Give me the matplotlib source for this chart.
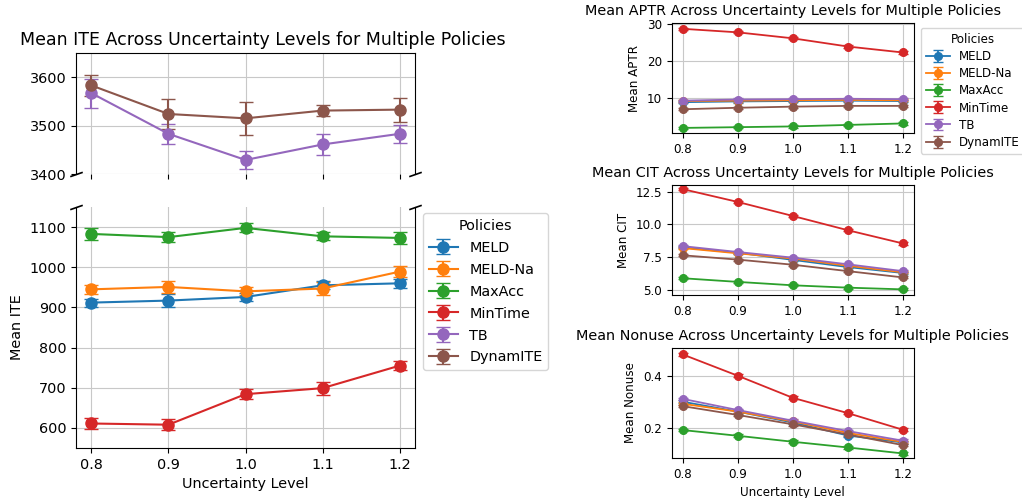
import matplotlib
matplotlib.use("Agg")
import matplotlib.pyplot as plt
import numpy as np

levels = [0.8, 0.9, 1.0, 1.1, 1.2]
policies = ["MELD", "MELD-Na", "MaxAcc", "MinTime", "TB", "DynamITE"]
colors = ["#1f77b4", "#ff7f0e", "#2ca02c", "#d62728", "#9467bd", "#8c564b"]

# Mean ITE (and error half-widths)
ite_mean = {
    "MELD":     [912, 917, 926, 955, 960],
    "MELD-Na":  [945, 951, 940, 947, 989],
    "MaxAcc":   [1083, 1075, 1098, 1077, 1073],
    "MinTime":  [611, 608, 684, 699, 755],
    "TB":       [3567, 3483, 3429, 3461, 3483],
    "DynamITE": [3583, 3524, 3515, 3531, 3533],
}
ite_err = {
    "MELD":     [10, 16, 11, 10, 11],
    "MELD-Na":  [11, 16, 10, 17, 14],
    "MaxAcc":   [14, 13, 11, 10, 16],
    "MinTime":  [13, 14, 12, 16, 11],
    "TB":       [30, 21, 19, 21, 19],
    "DynamITE": [22, 30, 34, 12, 25],
}

# Mean APTR
aptr_mean = {
    "MELD":     [9.0, 9.2, 9.3, 9.4, 9.3],
    "MELD-Na":  [9.3, 9.4, 9.5, 9.6, 9.5],
    "MaxAcc":   [2.1, 2.3, 2.5, 2.9, 3.3],
    "MinTime":  [28.65, 27.7, 26.1, 23.9, 22.3],
    "TB":       [9.4, 9.7, 9.8, 9.9, 9.8],
    "DynamITE": [7.1, 7.5, 7.8, 8.0, 8.0],
}
aptr_err = {p: [0.3] * 5 for p in policies}

# Mean CIT
cit_mean = {
    "MELD":     [8.25, 7.85, 7.3, 6.75, 6.3],
    "MELD-Na":  [8.2, 7.8, 7.4, 6.85, 6.35],
    "MaxAcc":   [5.9, 5.62, 5.36, 5.18, 5.05],
    "MinTime":  [12.7, 11.72, 10.65, 9.56, 8.55],
    "TB":       [8.35, 7.9, 7.47, 6.96, 6.44],
    "DynamITE": [7.65, 7.32, 6.93, 6.44, 5.96],
}
cit_err = {p: [0.08] * 5 for p in policies}

# Mean Nonuse
nonuse_mean = {
    "MELD":     [0.300, 0.262, 0.220, 0.170, 0.143],
    "MELD-Na":  [0.292, 0.262, 0.224, 0.180, 0.145],
    "MaxAcc":   [0.191, 0.169, 0.146, 0.124, 0.101],
    "MinTime":  [0.482, 0.400, 0.315, 0.256, 0.192],
    "TB":       [0.311, 0.268, 0.227, 0.187, 0.150],
    "DynamITE": [0.283, 0.249, 0.213, 0.174, 0.133],
}
nonuse_err = {p: [0.005] * 5 for p in policies}

W, H = 1022, 498
fig = plt.figure(figsize=(W / 100, H / 100), dpi=100)


def rect(x0, x1, y0, y1):
    return [x0 / W, 1 - y1 / H, (x1 - x0) / W, (y1 - y0) / H]


ls = 10.4  # left font size
ax_top = fig.add_axes(rect(76, 415, 53, 174))
ax_bot = fig.add_axes(rect(76, 415, 207, 448), sharex=ax_top)

for p, c in zip(policies, colors):
    for ax in (ax_top, ax_bot):
        ax.errorbar(levels, ite_mean[p], yerr=ite_err[p], color=c, marker="o",
                    markersize=8, capsize=5, linewidth=1.5, label=p)

ax_top.set_ylim(3400, 3650)
ax_bot.set_ylim(550, 1150)
ax_top.set_xlim(0.78, 1.22)
ax_top.set_yticks([3400, 3500, 3600])
ax_bot.set_yticks([600, 700, 800, 900, 1000, 1100])
ax_bot.set_xticks(levels)
ax_top.spines["bottom"].set_visible(False)
ax_bot.spines["top"].set_visible(False)
ax_top.tick_params(labelbottom=False)
for ax in (ax_top, ax_bot):
    ax.grid(True, color="#c8c8c8")
    ax.tick_params(labelsize=ls)
ax_top.set_title("Mean ITE Across Uncertainty Levels for Multiple Policies",
                 fontsize=12.5, x=0.55)
ax_bot.set_xlabel("Uncertainty Level", fontsize=ls)
ax_bot.set_ylabel("Mean ITE", fontsize=ls)

d = 0.35
kw = dict(marker=[(-1, -d), (1, d)], markersize=9, linestyle="none",
          color="k", mec="k", mew=1.2, clip_on=False)
ax_top.plot([0, 1], [0, 0], transform=ax_top.transAxes, **kw)
ax_bot.plot([0, 1], [1, 1], transform=ax_bot.transAxes, **kw)

h, l = ax_bot.get_legend_handles_labels()
fig.legend(h, l, title="Policies", loc="upper left",
           bbox_to_anchor=(423 / W, 1 - 213 / H), borderaxespad=0,
           fontsize=ls, title_fontsize=ls, labelspacing=0.55)

# Right column
rs = 8.6
right_specs = [
    (aptr_mean, aptr_err, "APTR", (23, 133), (0.74, 30.2), [10, 20, 30]),
    (cit_mean, cit_err, "CIT", (185, 295), (4.62, 13.01), [5.0, 7.5, 10.0, 12.5]),
    (nonuse_mean, nonuse_err, "Nonuse", (348, 458), (0.0835, 0.5065), [0.2, 0.4]),
]
right_axes = []
for mean, err, name, (y0, y1), ylim, yt in right_specs:
    ax = fig.add_axes(rect(671.5, 914, y0, y1))
    for p, c in zip(policies, colors):
        ax.errorbar(levels, mean[p], yerr=err[p], color=c, marker="o",
                    markersize=5.5, capsize=3.5, linewidth=1.3, label=p)
    ax.set_xlim(0.78, 1.22)
    ax.set_ylim(*ylim)
    ax.set_xticks(levels)
    ax.set_yticks(yt)
    ax.grid(True, color="#c8c8c8")
    ax.tick_params(labelsize=rs)
    ax.set_title(f"Mean {name} Across Uncertainty Levels for Multiple Policies", fontsize=10.35)
    ax.set_ylabel(f"Mean {name}", fontsize=rs)
    right_axes.append(ax)
right_axes[-1].set_xlabel("Uncertainty Level", fontsize=rs)

h, l = right_axes[0].get_legend_handles_labels()
fig.legend(h, l, title="Policies", loc="upper left",
           bbox_to_anchor=(921 / W, 1 - 28 / H), borderaxespad=0,
           fontsize=rs, title_fontsize=rs, labelspacing=0.35)

fig.savefig("out.png", dpi=100)
